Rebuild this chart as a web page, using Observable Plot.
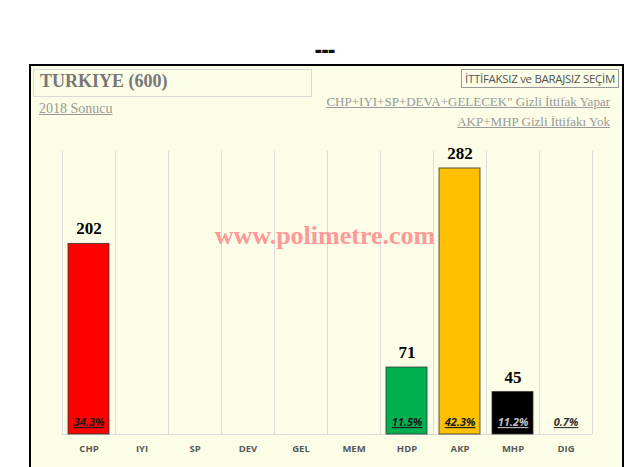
<!DOCTYPE html>
<html>
<head>
<meta charset="utf-8">
<script src="https://cdn.jsdelivr.net/npm/d3@7"></script>
<script src="https://cdn.jsdelivr.net/npm/@observablehq/plot@0.6"></script>
<style>
  html, body { margin: 0; padding: 0; background: #fff; }
  #page { position: relative; width: 633px; height: 467px; overflow: hidden; }
  #maintitle { position: absolute; left: 0; width: 650px; top: 35px; text-align: center;
    font: 900 21px "Open Sans", sans-serif; color: #111; }
  #frame { position: absolute; left: 29px; top: 64px; width: 591px; height: 420px;
    border: 2px solid #000; background: #fbfde6; }
  #titlebox { position: absolute; left: 33px; top: 69px; width: 279px; height: 28px;
    border: 1px solid #d9d9d9; box-sizing: border-box; }
  #title { position: absolute; left: 40px; top: 71px; font: bold 18px "Liberation Serif", serif; color: #777; }
  #sub { position: absolute; left: 39px; top: 101px; font: 14px "Liberation Serif", serif; color: #999; text-decoration: underline; }
  #badge { position: absolute; right: 14px; top: 69px; padding: 1px 3px; border: 1px solid #999;
    font: 11.5px "Open Sans", sans-serif; color: #555; letter-spacing: -0.3px; background: #fbfde6; }
  .note { position: absolute; right: 23px; font: 13px "Liberation Serif", serif; color: #999; text-decoration: underline; }
  #wm { position: absolute; left: 0; width: 650px; top: 221px; text-align: center;
    font: bold 26px "Liberation Serif", serif; color: #ff9999; }
  #chart { position: absolute; left: 0; top: 0; }
  .pct text { text-decoration: underline; }
</style>
</head>
<body>
<div id="page">
  <div id="maintitle">---</div>
  <div id="frame"></div>
  <div id="titlebox"></div>
  <div id="title">TURKIYE (600)</div>
  <div id="sub">2018 Sonucu</div>
  <div id="badge">İTTİFAKSIZ ve BARAJSIZ SEÇİM</div>
  <div class="note" style="top:94px">CHP+IYI+SP+DEVA+GELECEK" Gizli İttifak Yapar</div>
  <div class="note" style="top:114px">AKP+MHP Gizli İttifakı Yok</div>
  <div id="chart"></div>
  <div id="wm">www.polimetre.com</div>
</div>
<script>
const categories = ["CHP","IYI","SP","DEV","GEL","MEM","HDP","AKP","MHP","DIG"];
const seats = [202, 0, 0, 0, 0, 0, 71, 282, 45, 0];
const percents = ["34.3%", "", "", "", "", "", "11.5%", "42.3%", "11.2%", "0.7%"];
const barColors = ["#ff0000","#ff0000","#ff0000","#ff0000","#ff0000","#ff0000","#00b050","#ffc000","#000000","#808080"];
const pctColors = ["#1a1a1a","#1a1a1a","#1a1a1a","#1a1a1a","#1a1a1a","#1a1a1a","#1a1a1a","#1a1a1a","#c0c0c0","#333333"];

const data = categories.map((c, i) => ({cat: c, seats: seats[i], pct: percents[i], color: barColors[i], pctColor: pctColors[i]}));

const W = 633, H = 467, mL = 62, mR = 41, mT = 151, mB = 33;
const half = (W - mL - mR) / categories.length / 2;

const chart = Plot.plot({
  width: W, height: H,
  marginLeft: mL, marginRight: mR, marginTop: mT, marginBottom: mB,
  style: {background: "transparent", overflow: "visible"},
  x: {domain: categories, padding: 0, label: null, tickSize: 0, tickPadding: 11},
  y: {domain: [0, 300], axis: null},
  marks: [
    Plot.ruleX(categories, {x: d => d, dx: -half, y1: 0, y2: 300, stroke: "#dcdcdc"}),
    Plot.ruleX([categories[categories.length - 1]], {x: d => d, dx: half, y1: 0, y2: 300, stroke: "#dcdcdc"}),
    Plot.ruleY([0], {stroke: "#dcdcdc"}),
    Plot.barY(data.filter(d => d.seats > 0), {x: "cat", y: "seats", fill: "color", stroke: "#333", strokeOpacity: 0.8, strokeWidth: 1, insetLeft: 6, insetRight: 6}),
    Plot.text(data.filter(d => d.seats > 0), {x: "cat", y: "seats", text: d => String(d.seats), dy: -15,
      fontFamily: "Liberation Serif", fontWeight: "bold", fontSize: 17, fill: "#000"}),
    Plot.text(data.filter(d => d.pct), {x: "cat", y: 0, text: "pct", dy: -12, fill: "pctColor",
      fontFamily: "Open Sans", fontStyle: "italic", fontWeight: "bold", fontSize: 11, className: "pct"}),
    Plot.axisX({tickSize: 0, tickPadding: 11, fontFamily: "Open Sans", fontWeight: "bold", fontSize: 9.5, fill: "#595959", label: null})
  ]
});
document.getElementById("chart").appendChild(chart);
</script>
</body>
</html>
